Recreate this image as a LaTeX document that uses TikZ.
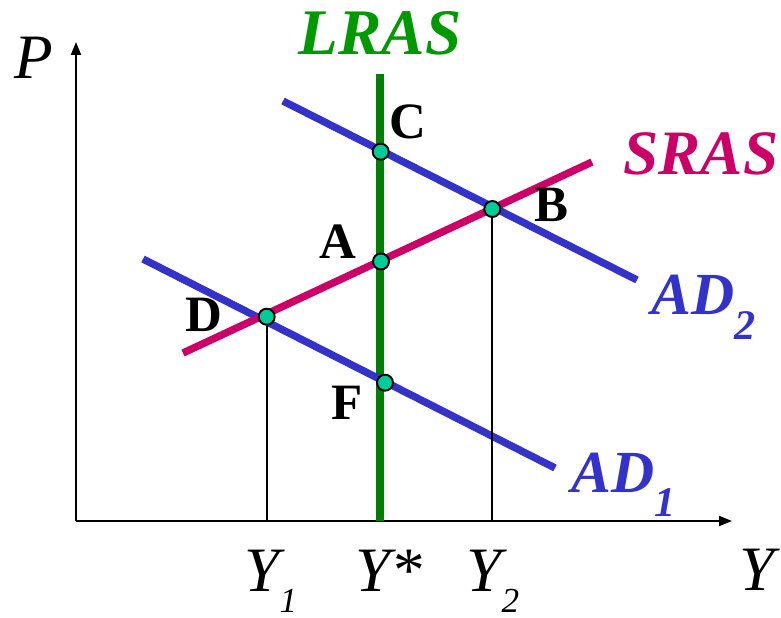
\documentclass[tikz,border=0pt]{standalone}
\usepackage{fontspec}
\setmainfont{Liberation Serif}
\usetikzlibrary{arrows.meta}

\definecolor{adblue}{RGB}{51,51,204}
\definecolor{srasred}{RGB}{204,0,102}
\definecolor{lrasgreen}{RGB}{0,128,0}
\definecolor{lrastext}{RGB}{0,153,0}
\definecolor{dotgreen}{RGB}{0,204,153}

% lowered subscript in the labels
\newcommand{\lowsub}[3]{\raisebox{-#2}{\fontsize{#3}{#3}\selectfont #1}}

\begin{document}
\begin{tikzpicture}[x=0.02cm, y=-0.02cm,
	  axis/.style={line width=1.2pt, -{Triangle[length=0.26cm,width=0.2cm]}},
	  curve/.style={line width=4.2pt},
	  drop/.style={line width=1pt},
	  pt/.style={circle, draw, line width=1.1pt, fill=dotgreen, minimum size=0.32cm, inner sep=0pt},
	  ptlabel/.style={font=\fontsize{29}{29}\selectfont\bfseries, inner sep=0pt, anchor=base},
	  axlabel/.style={font=\fontsize{36}{36}\selectfont\itshape, inner sep=0pt},
	  crvlabel/.style={font=\fontsize{34}{34}\selectfont\bfseries\itshape, inner sep=0pt},
	]
	\useasboundingbox (0,0) rectangle (781,618);
	
	% Axes
	\coordinate (origin) at (76,521);
	\coordinate (xend) at (732,521);
	\coordinate (yend) at (76,42);
	\draw[axis] (origin) -- (xend);
	\draw[axis] (origin) -- (yend);
	\node[axlabel] (plab) at (34,58) {P};
	\node[axlabel] (ylab) at (757,570) {Y};
	
	% Curves
	\coordinate (lrasTop) at (380,74);
	\coordinate (lrasBot) at (380,521);
	\coordinate (ad1s) at (143,259);
	\coordinate (ad1e) at (555,468);
	\coordinate (ad2s) at (283,101);
	\coordinate (ad2e) at (637,280);
	\coordinate (srass) at (183,353);
	\coordinate (srase) at (592,162);
	\draw[curve, draw=lrasgreen] (lrasBot) -- (lrasTop);
	\draw[curve, draw=adblue] (ad1s) -- (ad1e);
	\draw[curve, draw=adblue] (ad2s) -- (ad2e);
	\draw[curve, draw=srasred] (srass) -- (srase);
	
	% Curve labels
	\node[crvlabel, font=\fontsize{37}{37}\selectfont\bfseries\itshape, text=lrastext, anchor=base] (lraslab) at (380,55) {LRAS};
	\node[crvlabel, font=\fontsize{36}{36}\selectfont\bfseries\itshape, text=srasred, anchor=base] (sraslab) at (701,175) {SRAS};
	\node[crvlabel, text=adblue, anchor=base west] (ad2lab) at (651,315) {AD\lowsub{2}{14pt}{24}};
	\node[crvlabel, text=adblue, anchor=base west] (ad1lab) at (571,492) {AD\lowsub{1}{14pt}{24}};
	
	% Points
	\node[pt] (ptC) at (380.7,151.7) {};
	\node[pt] (ptB) at (492.3,209) {};
	\node[pt] (ptA) at (381,261.5) {};
	\node[pt] (ptD) at (266.7,316.7) {};
	\node[pt] (ptF) at (385,382.7) {};
	
	% Drop lines
	\draw[drop] (ptD) -- (ptD |- origin);
	\draw[drop] (ptB) -- (ptB |- origin);
	
	% Point labels
	\node[ptlabel] (labC) at (408,139) {C};
	\node[ptlabel] (labB) at (551,222) {B};
	\node[ptlabel] (labA) at (338,258) {A};
	\node[ptlabel] (labD) at (204,332) {D};
	\node[ptlabel] (labF) at (347,419) {F};
	
	% Output levels
	\node[axlabel, anchor=base west] (y1lab) at (244,591) {Y\lowsub{1}{12pt}{20}};
	\node[axlabel, anchor=base west] (ystarlab) at (355,591) {Y*};
	\node[axlabel, anchor=base west] (y2lab) at (466,591) {Y\lowsub{2}{12pt}{20}};
	
	\end{tikzpicture}
\end{document}
